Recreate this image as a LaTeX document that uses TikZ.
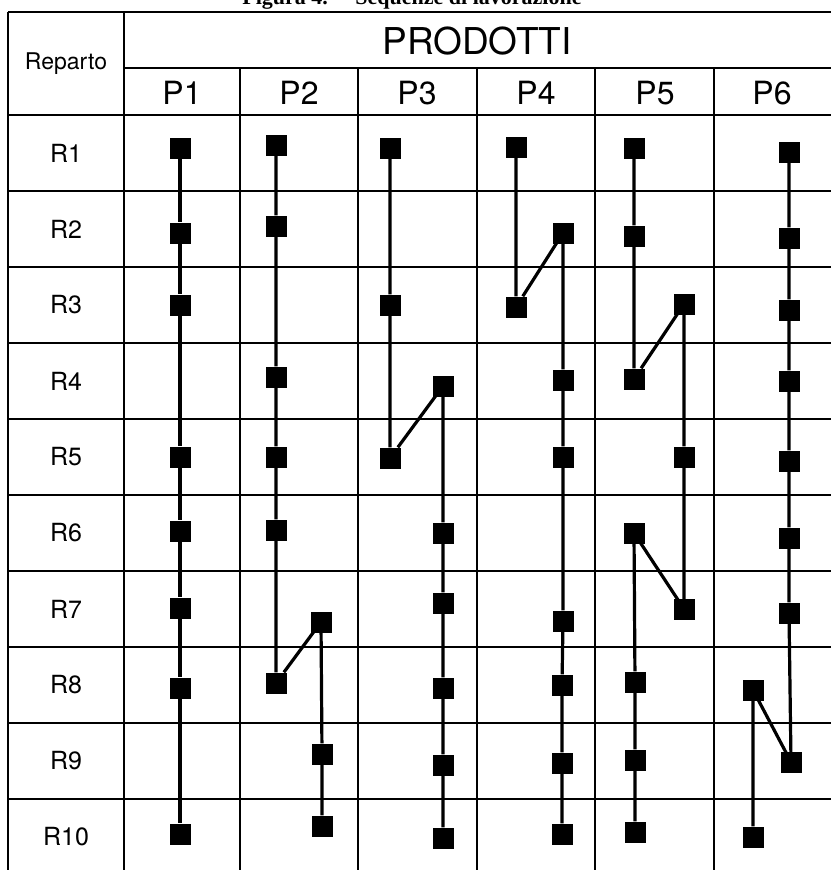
\documentclass[tikz,border=0pt]{standalone}
\usepackage{fontspec}
\setmainfont{TeX Gyre Heros}
\newfontfamily\titlefont{Liberation Serif}
\tikzset{
  opbox/.style={fill=black, inner sep=0pt, minimum size=21pt},
  route/.style={line width=3.2pt},
  gridline/.style={line width=2pt},
  thingrid/.style={line width=1.2pt},
  rowlabel/.style={font=\fontsize{25}{30}\selectfont},
  collabel/.style={font=\fontsize{32}{38}\selectfont},
  headlabel/.style={font=\fontsize{37}{44}\selectfont},
  replabel/.style={font=\fontsize{23}{28}\selectfont}
}
\begin{document}
\begin{tikzpicture}[x=1pt, y=-1pt]
\useasboundingbox (0,0) rectangle (830,870);

% title, cut at the top of the page
\node[font=\titlefont\bfseries\fontsize{22}{26}\selectfont, anchor=base] (title) at (412,5) {Figura 4. -- Sequenze di lavorazione};

% table frame
\draw[gridline] (8,12) -- (836,12);
\draw[gridline] (124,68) -- (836,68);
\draw[gridline] (8,115) -- (836,115);
\draw[gridline] (8,191) -- (836,191);
\draw[gridline] (8,267) -- (836,267);
\draw[gridline] (8,343) -- (836,343);
\draw[gridline] (8,419) -- (836,419);
\draw[gridline] (8,495) -- (836,495);
\draw[gridline] (8,571) -- (836,571);
\draw[gridline] (8,647) -- (836,647);
\draw[gridline] (8,723) -- (836,723);
\draw[gridline] (8,799) -- (836,799);
\draw[gridline] (8,12) -- (8,876);
\draw[gridline] (124,12) -- (124,876);
\draw[thingrid] (240,68) -- (240,876);
\draw[thingrid] (358,68) -- (358,876);
\draw[thingrid] (477,68) -- (477,876);
\draw[thingrid] (595,68) -- (595,876);
\draw[thingrid] (714,68) -- (714,876);

% headings
\node[replabel] (reparto) at (66,64) {Reparto};
\node[headlabel] (prodotti) at (477,41) {PRODOTTI};
\node[collabel] (hp1) at (182,93) {P1};
\node[collabel] (hp2) at (299,93) {P2};
\node[collabel] (hp3) at (417,93) {P3};
\node[collabel] (hp4) at (536,93) {P4};
\node[collabel] (hp5) at (655,93) {P5};
\node[collabel] (hp6) at (772,93) {P6};

\node[rowlabel] (hr1) at (66,153) {R1};
\node[rowlabel] (hr2) at (66,229) {R2};
\node[rowlabel] (hr3) at (66,305) {R3};
\node[rowlabel] (hr4) at (66,381) {R4};
\node[rowlabel] (hr5) at (66,457) {R5};
\node[rowlabel] (hr6) at (66,533) {R6};
\node[rowlabel] (hr7) at (66,609) {R7};
\node[rowlabel] (hr8) at (66,685) {R8};
\node[rowlabel] (hr9) at (66,761) {R9};
\node[rowlabel] (hr10) at (66,837) {R10};

% P1
\node[opbox] (p1r1) at (180,148) {};
\node[opbox] (p1r2) at (180,233) {};
\node[opbox] (p1r3) at (180,305) {};
\node[opbox] (p1r5) at (180,457) {};
\node[opbox] (p1r6) at (180,531) {};
\node[opbox] (p1r7) at (180,608) {};
\node[opbox] (p1r8) at (180,688) {};
\node[opbox] (p1r10) at (180,834) {};
\draw[route] (p1r1) -- (p1r2) -- (p1r3) -- (p1r5) -- (p1r6) -- (p1r7) -- (p1r8) -- (p1r10);

% P2
\node[opbox] (p2r1) at (276,145) {};
\node[opbox] (p2r2) at (276,226) {};
\node[opbox] (p2r4) at (276,377) {};
\node[opbox] (p2r5) at (276,457) {};
\node[opbox] (p2r6) at (276,530) {};
\node[opbox] (p2r8) at (276,683) {};
\node[opbox] (p2r7) at (321,622) {};
\node[opbox] (p2r9) at (322,754) {};
\node[opbox] (p2r10) at (322,826) {};
\draw[route] (p2r1) -- (p2r2) -- (p2r4) -- (p2r5) -- (p2r6) -- (p2r8) -- (p2r7.center) -- (p2r9) -- (p2r10);

% P3
\node[opbox] (p3r1) at (390,148) {};
\node[opbox] (p3r3) at (390,305) {};
\node[opbox] (p3r5) at (390,458) {};
\node[opbox] (p3r4) at (443,386) {};
\node[opbox] (p3r6) at (443,533) {};
\node[opbox] (p3r7) at (443,603) {};
\node[opbox] (p3r8) at (443,688) {};
\node[opbox] (p3r9) at (443,765) {};
\node[opbox] (p3r10) at (443,838) {};
\draw[route] (p3r1) -- (p3r3) -- (p3r5) -- (p3r4.center) -- (p3r6) -- (p3r7) -- (p3r8) -- (p3r9) -- (p3r10);

% P4
\node[opbox] (p4r1) at (516,147) {};
\node[opbox] (p4r3) at (516,307) {};
\node[opbox] (p4r2) at (563,233) {};
\node[opbox] (p4r4) at (563,380) {};
\node[opbox] (p4r5) at (563,457) {};
\node[opbox] (p4r7) at (563,621) {};
\node[opbox] (p4r8) at (562,685) {};
\node[opbox] (p4r9) at (562,763) {};
\node[opbox] (p4r10) at (562,834) {};
\draw[route] (p4r1) -- (p4r3) -- (p4r2.center) -- (p4r4) -- (p4r5) -- (p4r7) -- (p4r8) -- (p4r9) -- (p4r10);

% P5
\node[opbox] (p5r1) at (634,148) {};
\node[opbox] (p5r2) at (634,236) {};
\node[opbox] (p5r4) at (634,379) {};
\node[opbox] (p5r3) at (684,304) {};
\node[opbox] (p5r5) at (684,457) {};
\node[opbox] (p5r7) at (684,609) {};
\node[opbox] (p5r6) at (634,533) {};
\node[opbox] (p5r8) at (635,682) {};
\node[opbox] (p5r9) at (635,760) {};
\node[opbox] (p5r10) at (635,832) {};
\draw[route] (p5r1) -- (p5r2) -- (p5r4) -- (p5r3.center) -- (p5r5) -- (p5r7.center) -- (p5r6.center) -- (p5r8) -- (p5r9) -- (p5r10);

% P6
\node[opbox] (p6r1) at (789,152) {};
\node[opbox] (p6r2) at (789,238) {};
\node[opbox] (p6r3) at (789,310) {};
\node[opbox] (p6r4) at (789,381) {};
\node[opbox] (p6r5) at (789,461) {};
\node[opbox] (p6r6) at (789,538) {};
\node[opbox] (p6r7) at (789,613) {};
\node[opbox] (p6r9) at (791,762) {};
\node[opbox] (p6r8) at (753,690) {};
\node[opbox] (p6r10) at (753,837) {};
\draw[route] (p6r1) -- (p6r2) -- (p6r3) -- (p6r4) -- (p6r5) -- (p6r6) -- (p6r7) -- (p6r9.center) -- (p6r8.center) -- (p6r10);
\end{tikzpicture}
\end{document}
